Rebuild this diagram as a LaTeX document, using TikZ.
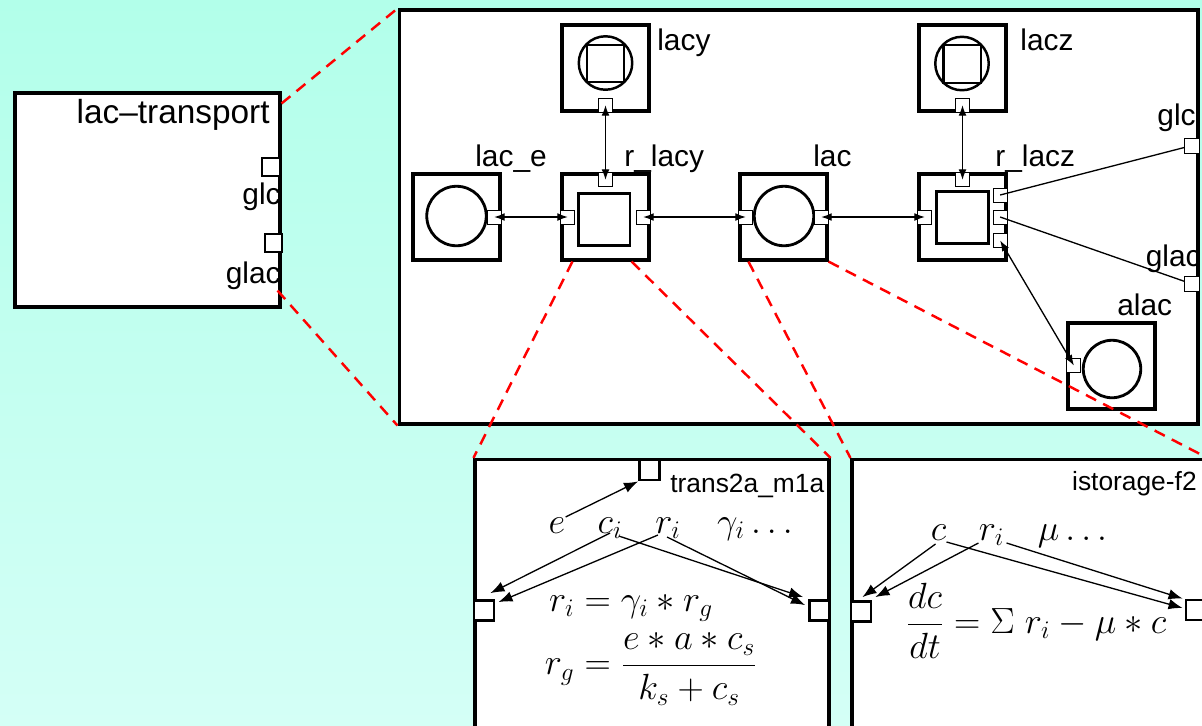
\documentclass[tikz,border=0pt]{standalone}
\usepackage{fontspec}
\setsansfont{Liberation Sans}
\usepackage{tikz}
\usetikzlibrary{arrows.meta, calc}

\definecolor{bgtop}{RGB}{178,255,234}
\definecolor{bgbot}{RGB}{212,255,246}

\tikzset{
    blk/.style={rectangle, draw, line width=1.8pt, fill=white, inner sep=0pt,
                minimum width=1.74cm, minimum height=1.72cm},
    frame/.style={rectangle, draw, line width=1.8pt, fill=white, inner sep=0pt},
    pool/.style={circle, draw, line width=1.6pt, inner sep=0pt, minimum size=1.19cm},
    rxn/.style={rectangle, draw, line width=1.7pt, inner sep=0pt, minimum size=1.04cm},
    pin/.style={rectangle, draw, line width=0.5pt, fill=white, inner sep=0pt,
                minimum size=0.28cm},
    bigpin/.style={rectangle, draw, line width=1.6pt, fill=white, inner sep=0pt,
                   minimum size=0.40cm},
    link/.style={{Latex[length=6pt,width=4.5pt]}-{Latex[length=6pt,width=4.5pt]},
                 line width=0.75pt},
    wire/.style={line width=0.75pt},
    flow/.style={-{Latex[length=8pt,width=6pt]}, line width=0.75pt},
    zoomline/.style={draw=red, line width=1.4pt, dash pattern=on 6.5pt off 4.5pt},
    lbl/.style={font=\sffamily\fontsize{17}{20}\selectfont, inner sep=0pt},
    mdl/.style={font=\sffamily\fontsize{15}{18}\selectfont, inner sep=0pt},
    mth/.style={font=\fontsize{20.74}{25}\selectfont, inner sep=0pt},
}

\begin{document}
\begin{tikzpicture}[x=0.02cm, y=-0.02cm]
    \useasboundingbox (0,0) rectangle (1202,725);
    \clip (0,0) rectangle (1202,725);
    \fill[top color=bgtop, bottom color=bgbot] (0,0) rectangle (1202,725);

    % top level module
    \node[frame, minimum width=5.3cm, minimum height=4.28cm] (ltrans) at (147.5,200) {};
    \node[lbl, font=\sffamily\fontsize{19}{22}\selectfont, anchor=base east]
        (ltransname) at (270,123) {lac–transport};
    \node[bigpin, minimum size=0.35cm, line width=1.4pt] (ltglc) at (271,167) {};
    \node[lbl, anchor=base east] (ltglcname) at (281,204) {glc};
    \node[bigpin, minimum size=0.35cm, line width=1.4pt] (ltglac) at (273.5,243) {};
    \node[lbl, anchor=base east] (ltglacname) at (281,283) {glac};

    % its inside
    \node[frame, minimum width=15.98cm, minimum height=8.28cm] (model) at (798.5,217) {};

    \node[blk] (lacy) at (605.5,68) {};
    \node[pool, minimum size=1.07cm, line width=1.4pt] (lacyc) at (605.5,63) {};
    \node[rxn, minimum size=0.75cm, line width=1.4pt] (lacys) at (605.5,63.5) {};
    \node[pin, anchor=south] (lacyP) at (lacy.south) {};
    \node[lbl, anchor=base west] (lacyname) at (657,50) {lacy};

    \node[blk] (lacz) at (962.5,68) {};
    \node[pool, minimum size=1.07cm, line width=1.4pt] (laczc) at (962,63.5) {};
    \node[rxn, minimum size=0.75cm, line width=1.4pt] (laczs) at (962,64) {};
    \node[pin, anchor=south] (laczP) at (lacz.south) {};
    \node[lbl, anchor=base west] (laczname) at (1020,50) {lacz};

    \node[blk] (lace) at (456.5,217) {};
    \node[pool] (lacec) at (456.5,216) {};
    \node[pin, anchor=east] (laceE) at (lace.east) {};
    \node[lbl, anchor=base west] (lacename) at (475,166) {lac\_e};

    \node[blk] (rlacy) at (605.5,217) {};
    \node[rxn] (rlacys) at (604,219) {};
    \node[pin, anchor=north] (rlacyN) at (rlacy.north) {};
    \node[pin, anchor=west] (rlacyW) at (rlacy.west) {};
    \node[pin, anchor=east] (rlacyE) at (rlacy.east) {};
    \node[lbl, anchor=base west] (rlacyname) at (624,166) {r\_lacy};

    \node[blk] (lac) at (783.5,217) {};
    \node[pool] (lacc) at (784,216) {};
    \node[pin, anchor=west] (lacW) at (lac.west) {};
    \node[pin, anchor=east] (lacE) at (lac.east) {};
    \node[lbl, anchor=base west] (lacname) at (813,166) {lac};

    \node[blk] (rlacz) at (962.5,217) {};
    \node[rxn] (rlaczs) at (962,217) {};
    \node[pin, anchor=north] (rlaczN) at (rlacz.north) {};
    \node[pin, anchor=west] (rlaczW) at (rlacz.west) {};
    \node[pin, anchor=east] (rlaczE1) at ($(rlacz.east)+(0,-22)$) {};
    \node[pin, anchor=east] (rlaczE2) at (rlacz.east) {};
    \node[pin, anchor=east] (rlaczE3) at ($(rlacz.east)+(0,23.5)$) {};
    \node[lbl, anchor=base west] (rlaczname) at (995,166) {r\_lacz};

    \node[blk] (alac) at (1111.5,366) {};
    \node[pool, minimum size=1.15cm] (alacc) at (1112,369) {};
    \node[pin, anchor=west] (alacW) at ($(alac.west)+(0,-0.5)$) {};
    \node[lbl, anchor=base west] (alacname) at (1117,315) {alac};

    \node[pin, minimum size=0.3cm] (mglc) at (1192,145.5) {};
    \node[lbl, anchor=base east] (mglcname) at (1196,125) {glc};
    \node[pin, minimum size=0.3cm] (mglac) at (1192,284) {};
    \node[lbl, anchor=base east] (mglacname) at (1201,266) {glac};

    \draw[link] (lacyP.center) -- (rlacyN.center);
    \draw[link] (laczP.center) -- (rlaczN.center);
    \draw[link] (laceE.center) -- (rlacyW.center);
    \draw[link] (rlacyE.center) -- (lacW.center);
    \draw[link] (lacE.center) -- (rlaczW.center);
    \draw[wire] (rlaczE1.center) -- (mglc);
    \draw[wire] (rlaczE2.center) -- (mglac);
    \draw[link] (rlaczE3.center) -- (alacW.center);

    % reaction kinetics
    \node[frame, minimum width=7.08cm, minimum height=6.6cm] (t2) at (652,624.5) {};
    \node[bigpin] (t2top) at (649.5,470) {};
    \node[bigpin] (t2left) at (484,610.5) {};
    \node[bigpin] (t2right) at (819.5,610.5) {};
    \node[mdl, anchor=base west] (t2name) at (670,492) {trans2a\_m1a};
    \node[mth, anchor=base] (e) at (557,533) {$e$};
    \node[mth, anchor=base] (ci) at (610,533) {$c_i$};
    \node[mth, anchor=base] (ri) at (668,533) {$r_i$};
    \node[mth, anchor=base] (gi) at (755,533) {$\gamma_i \ldots$};
    \node[mth, anchor=base] (eqri) at (631,611) {$r_i = \gamma_i * r_g$};
    \node[mth] (eqrg) at (651,669) {$\displaystyle r_g = \frac{e*a*c_s}{k_s+c_s}$};
    \draw[flow] (e.north east) -- (t2top.south west);
    \draw[flow] (ci.base) -- ($(t2left.north east)+(-5,-6)$);
    \draw[flow] ($(ri.base west)+(3,2)$) -- ($(t2left.north east)+(3,3)$);
    \draw[flow] ($(ci.base east)+(-4,3)$) -- ($(t2right.north west)+(-5,-2)$);
    \draw[flow] ($(ri.base)+(-1,4)$) -- ($(t2right.north west)+(-3,6)$);

    % storage
    \node[frame, minimum width=7.08cm, minimum height=6.6cm] (ist) at (1029,624.5) {};
    \node[bigpin] (istleft) at (861,611.5) {};
    \node[bigpin] (istright) at (1196,610) {};
    \node[mdl, anchor=base east] (istname) at (1197,490) {istorage-f2};
    \node[mth, anchor=base] (c) at (938.5,540) {$c$};
    \node[mth, anchor=base] (rr) at (991.5,540) {$r_i$};
    \node[mth, anchor=base] (mu) at (1072.5,540) {$\mu \ldots$};
    \node[mth] (eqc) at (1036,621) {$\displaystyle \frac{dc}{dt} = \Sigma\; r_i - \mu * c$};
    \draw[flow] ($(c.base)+(-3,4)$) -- ($(istleft.north east)+(-10,-3)$);
    \draw[flow] ($(rr.base west)+(0,3)$) -- ($(istleft.north east)+(3,-3)$);
    \draw[flow] ($(c.base east)+(0,2)$) -- ($(istright.west)+(-2,-2)$);
    \draw[flow] ($(rr.base east)+(2,3)$) -- ($(istright.north west)+(-2,0)$);

    % zoom lines
    \draw[zoomline] ($(ltrans.north east)+(0,12)$) -- (model.north west);
    \draw[zoomline] ($(ltrans.south east)+(-4,-18)$) -- (model.south west);
    \draw[zoomline] ($(rlacy.south west)+(12,0)$) -- (t2.north west);
    \draw[zoomline] ($(rlacy.south east)+(-19,0)$) -- (t2.north east);
    \draw[zoomline] ($(lac.south west)+(10,0)$) -- (ist.north west);
    \draw[zoomline] (lac.south east) -- (ist.north east);
\end{tikzpicture}
\end{document}
